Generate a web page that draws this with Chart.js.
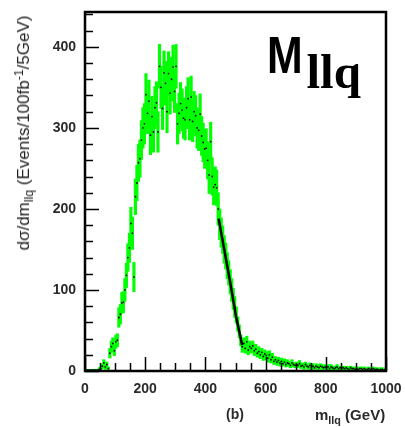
<!DOCTYPE html>
<html lang="en">
<head>
<meta charset="UTF-8">
<title>M_llq distribution</title>
<script src="https://cdn.jsdelivr.net/npm/chart.js@4/dist/chart.umd.min.js"></script>
<style>
  html, body { margin: 0; padding: 0; background: #fff; }
  #wrap { position: relative; width: 405px; height: 427px;
          font-family: "Liberation Sans", Arial, sans-serif; color: #2a2a2a; }
  #wrap canvas { position: absolute; left: 0; top: 0; }
  .lbl { position: absolute; white-space: nowrap; line-height: 1; }
  .lbl sub { font-size: 0.72em; vertical-align: -0.35em; }
  .lbl sup { font-size: 0.72em; vertical-align: 0.45em; }
  #ytitle { left: 24px; top: 133px; font-size: 17px; font-weight: normal; color: #222;
            transform: translate(-50%, -50%) rotate(-90deg); }
  #xtitle { left: 315px; top: 407px; font-size: 15px; font-weight: bold; }
  #panel  { left: 226px; top: 407px; font-size: 14px; font-weight: bold; }
  #mllq   { left: 267px; top: 26px; color: #000; }
  #mllq .big { display: inline-block; font: bold 51px "Liberation Sans", Arial, sans-serif;
               transform: scaleX(0.84); transform-origin: left; margin-right: -3px; }
  #mllq .sub { display: inline-block; font: bold 49px "Liberation Serif", "Times New Roman", serif;
               position: relative; top: 15px; }
</style>
</head>
<body>
<div id="wrap">
  <canvas id="chart" width="405" height="427"></canvas>
  <div class="lbl" id="ytitle">d&sigma;/dm<sub>llq</sub> (Events/100fb<sup>-1</sup>/5GeV)</div>
  <div class="lbl" id="panel">(b)</div>
  <div class="lbl" id="xtitle">m<sub>llq</sub> (GeV)</div>
  <div class="lbl" id="mllq"><span class="big">M</span><span class="sub">llq</span></div>
</div>
<script>
// ---------------------------------------------------------------------------
// Daten: 5 GeV bins von 0 bis 1000 GeV
// ---------------------------------------------------------------------------

const BIN_WIDTH = 5;

const binCounts = [
  1, 1, 1, 1, 1, 1, 1, 1, 1, 2,
  3, 6, 10, 5, 8, 3, 22, 30, 34, 25,
  36, 38, 66, 70, 84, 85, 100, 118, 140, 152,
  182, 170, 116, 215, 232, 257, 262, 285, 300, 305,
  341, 318, 333, 291, 314, 295, 325, 331, 295, 376,
  350, 324, 368, 355, 320, 367, 343, 360, 375, 345,
  376, 305, 318, 330, 322, 312, 310, 325, 336, 310,
  338, 308, 320, 315, 300, 297, 317, 290, 282, 274,
  275, 260, 242, 283, 240, 227, 230, 226, 200, 181,
  171, 162, 150, 142, 130, 121, 110, 100, 89, 79,
  69, 58, 49, 38, 30, 34, 28, 36, 26, 30,
  28, 31, 25, 27, 22, 24, 20, 23, 18, 21,
  19, 16, 20, 14, 17, 12, 14, 11, 13, 10,
  12, 9, 11, 8, 10, 9, 7, 10, 8, 7,
  8, 7, 9, 6, 7, 5, 8, 6, 5, 7,
  5, 6, 4, 6, 5, 4, 6, 5, 4, 5,
  4, 5, 3, 5, 4, 3, 4, 5, 3, 4,
  3, 4, 3, 4, 3, 2, 4, 3, 3, 2,
  3, 2, 3, 3, 2, 3, 2, 2, 3, 2,
  2, 3, 2, 2, 2, 1, 2, 2, 1, 2,
];

const binErrors = [
  1, 1, 1, 1, 1, 1, 1, 1, 1, 2,
  2, 3, 4, 3, 3, 2, 6, 7, 7, 6,
  8, 8, 12, 12, 13, 13, 14, 15, 17, 18,
  20, 20, 18, 22, 22, 23, 23, 24, 25, 25,
  26, 25, 26, 24, 25, 25, 26, 26, 25, 27,
  26, 26, 27, 27, 26, 27, 26, 27, 27, 26,
  27, 25, 25, 26, 26, 25, 25, 26, 26, 25,
  26, 25, 25, 25, 25, 25, 25, 24, 24, 24,
  24, 23, 23, 24, 23, 22, 22, 22, 20, 19,
  18, 17, 17, 16, 16, 15, 15, 14, 13, 13,
  10, 9, 8, 7, 7, 7, 6, 7, 6, 7,
  6, 6, 6, 6, 5, 6, 5, 5, 5, 5,
  5, 5, 5, 4, 5, 4, 4, 4, 4, 4,
  4, 3, 4, 3, 4, 3, 3, 4, 3, 3,
  3, 3, 4, 3, 3, 3, 3, 3, 3, 3,
  3, 3, 2, 3, 3, 2, 3, 3, 2, 3,
  2, 3, 2, 3, 2, 2, 2, 3, 2, 2,
  2, 2, 2, 2, 2, 2, 2, 2, 2, 2,
  2, 2, 2, 2, 2, 2, 2, 2, 2, 2,
  2, 2, 2, 2, 2, 1, 2, 2, 1, 2,
];

// Fit (schwarze Linie) an der oberen Kante
const fitMass   = [444, 463, 483, 502, 522];
const fitValues = [188, 149, 108, 67, 32];

// Achsen
const xTickValues = [0, 200, 400, 600, 800, 1000];
const yTickValues = [0, 100, 200, 300, 400];
const X_MIN = 0, X_MAX = 1000;
const Y_MIN = 0, Y_MAX = 443;

// ---------------------------------------------------------------------------

const binCenters = binCounts.map((_, i) => i * BIN_WIDTH + BIN_WIDTH / 2);
const errBars = binCounts.map((v, i) => ({
  x: binCenters[i], y: [Math.max(0, v - binErrors[i]), v + binErrors[i]]
}));
const points = binCounts.map((v, i) => ({ x: binCenters[i], y: v }));
const fitLine = fitMass.map((m, i) => ({ x: m, y: fitValues[i] }));

// Rahmen + nach innen zeigende Ticks (ROOT-Stil)
const frameTicks = {
  id: 'frameTicks',
  afterDatasetsDraw(chart) {
    const { ctx, chartArea: a, scales: { x, y } } = chart;
    ctx.save();
    ctx.strokeStyle = '#000';
    ctx.lineWidth = 1.5;
    ctx.beginPath();
    for (let v = 0; v <= Y_MAX; v += 20) {
      const py = Math.round(y.getPixelForValue(v)) + 0.5;
      const len = v % 100 === 0 ? 14 : 8;
      ctx.moveTo(a.left, py); ctx.lineTo(a.left + len, py);
    }
    for (let v = X_MIN; v <= X_MAX; v += 50) {
      const px = Math.round(x.getPixelForValue(v)) + 0.5;
      const len = v % 200 === 0 ? 14 : 8;
      ctx.moveTo(px, a.bottom); ctx.lineTo(px, a.bottom - len);
    }
    ctx.stroke();
    ctx.lineWidth = 2.5;
    ctx.strokeRect(a.left, a.top, a.right - a.left, a.bottom - a.top);
    ctx.restore();
  }
};

const noPad = (s) => { s.paddingLeft = 0; s.paddingRight = 0; s.paddingTop = 0; s.paddingBottom = 0; };

new Chart(document.getElementById('chart').getContext('2d'), {
  type: 'bar',
  plugins: [frameTicks],
  data: {
    datasets: [
      {
        type: 'bar', data: errBars, order: 3,
        backgroundColor: '#00ff00', borderWidth: 0,
        barThickness: 2.5, grouped: false,
      },
      {
        type: 'scatter', data: points, order: 2,
        pointRadius: 0.9, pointBackgroundColor: '#000', pointBorderWidth: 0,
      },
      {
        type: 'line', data: fitLine, order: 1,
        borderColor: '#000', borderWidth: 2.5, pointRadius: 0, tension: 0,
      },
    ]
  },
  options: {
    responsive: false,
    animation: false,
    layout: { padding: { top: 12, right: 19, left: 0, bottom: 0 } },
    plugins: { legend: { display: false }, tooltip: { enabled: false } },
    scales: {
      x: {
        type: 'linear', min: X_MIN, max: X_MAX, offset: false,
        grid: { display: false, drawTicks: false },
        border: { display: false },
        afterBuildTicks: (s) => { s.ticks = xTickValues.map(v => ({ value: v })); },
        afterFit: (s) => { s.height = 56; noPad(s); },
        ticks: { padding: 10, maxRotation: 0, autoSkip: false, color: '#2a2a2a',
                 callback: (v) => String(v),
                 font: { family: 'Liberation Sans', size: 14, weight: 'bold' } },
      },
      y: {
        min: Y_MIN, max: Y_MAX,
        grid: { display: false, drawTicks: false },
        border: { display: false },
        afterBuildTicks: (s) => { s.ticks = yTickValues.map(v => ({ value: v })); },
        afterFit: (s) => { s.width = 85; noPad(s); },
        ticks: { padding: 9, color: '#2a2a2a',
                 font: { family: 'Liberation Sans', size: 14, weight: 'bold' } },
      }
    }
  }
});
</script>
</body>
</html>
